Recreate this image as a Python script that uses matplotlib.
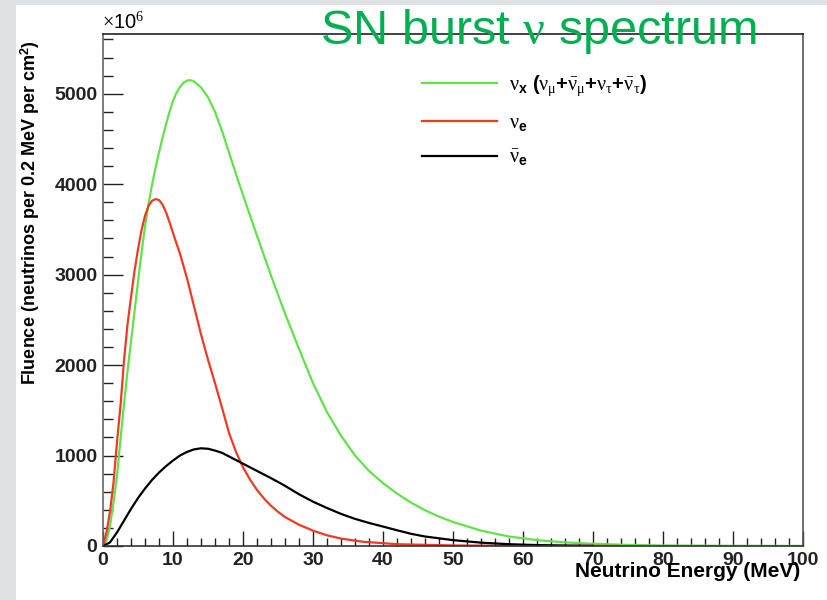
import numpy as np
import matplotlib
matplotlib.use('Agg')
import matplotlib.pyplot as plt
from matplotlib.patches import Rectangle
from matplotlib.ticker import MultipleLocator

# ── Style ────────────────────────────────────────────────────────────────────
plt.rcParams.update({
    'font.family': 'Liberation Sans',
    'mathtext.fontset': 'custom',
    'mathtext.rm': 'Liberation Serif',
    'mathtext.it': 'Liberation Serif',
    'mathtext.bf': 'Liberation Sans:bold',
})

GREEN = '#62e24a'
RED   = '#ef3a25'
BLACK = '#000000'
TITLE = '#00b050'
SIDE  = '#e0e1e3'

# ── Data (fluence in units of 1e6) ──────────────────────────────────────────
nux_e = [0, 0.5, 1, 1.5, 2, 2.5, 3, 3.5, 4, 4.5, 5, 5.5, 6, 6.5, 7, 7.5, 8,
         8.5, 9, 9.5, 10, 10.5, 11, 11.5, 12, 12.5, 13, 14, 15, 16, 17,
         18, 19, 20, 22, 24, 26, 28, 30, 32, 34, 36, 38, 40, 42, 44, 46, 48,
         50, 54, 58, 62, 66, 70, 75, 80, 90, 100]
nux_f = [0, 60, 220, 480, 780, 1180, 1570, 1930, 2260, 2590, 2920, 3240,
         3530, 3780, 3990, 4180, 4350, 4510, 4660, 4800, 4920, 5010, 5075,
         5120, 5145, 5150, 5135, 5070, 4960, 4800, 4590, 4350, 4110,
         3880, 3430, 2990, 2570, 2180, 1800, 1480, 1220, 1000, 830, 695, 580,
         480, 395, 325, 265, 170, 105, 65, 40, 25, 12, 6, 2, 1]

nue_e = [0, 0.5, 1, 1.5, 2, 2.5, 3, 3.5, 4, 4.5, 5, 5.5, 6, 6.5, 7, 7.5, 8,
         8.5, 9, 9.5, 10, 11, 12, 13, 14, 15, 16, 17, 18, 19, 20, 21, 22, 23,
         24, 25, 26, 28, 30, 32, 34, 37, 42, 50, 60, 73.6]
nue_f = [0, 150, 380, 700, 1150, 1550, 2050, 2450, 2750, 3040, 3280, 3490,
         3650, 3760, 3815, 3835, 3825, 3775, 3690, 3580, 3460, 3230, 2960,
         2650, 2340, 2060, 1800, 1530, 1250, 1040, 870, 735, 620, 525, 445,
         378, 320, 235, 170, 118, 82, 48, 20, 6, 2, 1]

nuebar_e = [0, 1, 2, 3, 4, 5, 6, 7, 8, 9, 10, 11, 12, 13, 14, 15, 16, 17, 18,
            19, 20, 21, 22, 23, 24, 25, 26, 28, 30, 32, 34, 36, 38, 40, 42, 44,
            46, 48, 50, 54, 58, 62, 66, 70]
nuebar_f = [0, 40, 150, 280, 410, 530, 635, 730, 812, 882, 945, 1000, 1040,
            1068, 1080, 1075, 1055, 1030, 990, 950, 910, 870, 830, 790, 750,
            708, 665, 572, 490, 420, 355, 300, 255, 215, 174, 135, 105, 85, 65,
            37, 20, 10, 5, 2]

labels = [r'$\nu_{\mathbf{x}}$ $\mathbf{(}\nu_{\mu}\mathbf{+}\bar{\nu}_{\mu}'
          r'\mathbf{+}\nu_{\tau}\mathbf{+}\bar{\nu}_{\tau}\mathbf{)}$',
          r'$\nu_{\mathbf{e}}$',
          r'$\bar{\nu}_{\mathbf{e}}$']

# ── Figure ───────────────────────────────────────────────────────────────────
W, H = 828, 600
fig = plt.figure(figsize=(W / 100, H / 100), dpi=100)
fig.patch.set_facecolor('white')
fig.add_artist(Rectangle((0, 0), 16 / W, 1, transform=fig.transFigure,
                         facecolor=SIDE, edgecolor='none', zorder=-1))
fig.add_artist(Rectangle((0, 1 - 5 / H), 1, 5 / H, transform=fig.transFigure,
                         facecolor=SIDE, edgecolor='none', zorder=-1))

ax = fig.add_axes([103 / W, 54 / H, 700 / W, 512 / H])

ax.plot(nux_e, nux_f, color=GREEN, lw=1.6, label=labels[0])
ax.plot(nue_e, nue_f, color=RED, lw=1.6, label=labels[1])
ax.plot(nuebar_e, nuebar_f, color=BLACK, lw=1.6, label=labels[2])

ax.set_xlim(0, 100)
ax.set_ylim(0, 5660)

ax.xaxis.set_major_locator(MultipleLocator(10))
ax.xaxis.set_minor_locator(MultipleLocator(2))
ax.yaxis.set_major_locator(MultipleLocator(1000))
ax.yaxis.set_minor_locator(MultipleLocator(200))

ax.tick_params(axis='both', which='both', direction='in', top=False,
               right=False, colors='#222222', width=1.0)
ax.tick_params(axis='x', which='major', length=11, pad=4.5)
ax.tick_params(axis='x', which='minor', length=6)
ax.tick_params(axis='y', which='major', length=14.5, pad=4)
ax.tick_params(axis='y', which='minor', length=7.5)
for lab in ax.get_xticklabels() + ax.get_yticklabels():
    lab.set_fontweight('bold')
    lab.set_fontsize(14)

for side in ['top', 'right', 'left', 'bottom']:
    ax.spines[side].set_linewidth(1.2)
ax.spines['left'].set_color('#666666')
ax.spines['bottom'].set_color('#333333')
ax.spines['top'].set_color('#222222')
ax.spines['right'].set_color('#555555')

ax.set_xlabel('Neutrino Energy (MeV)', fontsize=15, fontweight='bold',
              loc='right')
ax.xaxis.set_label_coords(0.9965, -0.031)
ax.set_ylabel(r'Fluence (neutrinos per 0.2 MeV per cm$^{\mathbf{2}}$)',
              fontsize=13, fontweight='bold', loc='top')
ax.yaxis.set_label_coords(-0.087, 0.988)

ax.text(-0.001, 1.003, r'$\times$10$^{6}$', transform=ax.transAxes,
        fontsize=14.5, family='Liberation Sans', ha='left', va='bottom')

ax.legend(frameon=False, fontsize=14.5, handlelength=3.7, handletextpad=0.6,
          labelspacing=0.72, borderpad=0, borderaxespad=0,
          loc='upper left', bbox_to_anchor=(422 / W, 1 - 74 / H),
          bbox_transform=fig.transFigure)

fig.text((322 + 755) / 2 / W, 1 - 44 / H, r'SN burst $\nu$ spectrum',
         color=TITLE, fontsize=35, ha='center', va='baseline', zorder=5)

plt.savefig('out.png', dpi=100, facecolor='white')
